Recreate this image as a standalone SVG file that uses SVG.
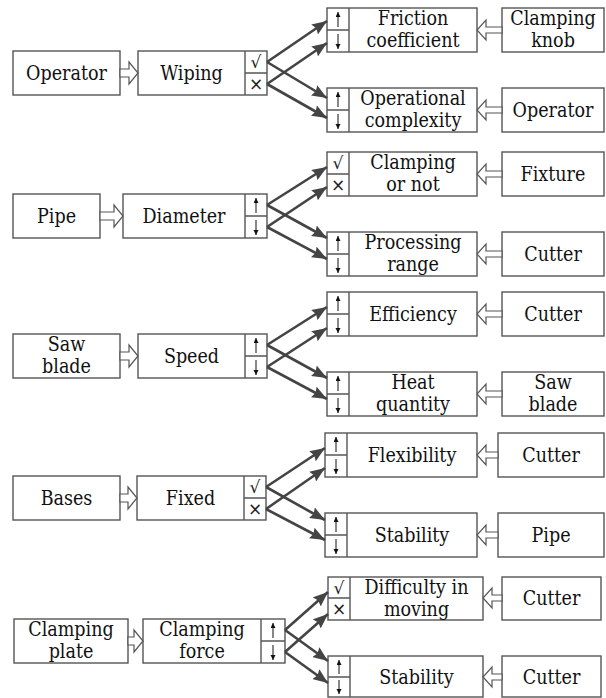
<svg xmlns="http://www.w3.org/2000/svg" width="606" height="698" viewBox="0 0 606 698">
  <style>
    .box { fill: #fff; stroke: #555; stroke-width: 1.4; }
    .div { stroke: #555; stroke-width: 1.4; fill: none; }
    .lbl { font-family: "DejaVu Serif Condensed", "DejaVu Serif", serif; font-stretch: condensed; font-size: 19.5px; fill: #111; text-anchor: middle; }
    .sym { font-family: "DejaVu Sans", sans-serif; font-size: 17px; fill: #222; text-anchor: middle; }
    .flow { fill: #fff; stroke: #555; stroke-width: 1.2; stroke-linejoin: miter; }
    .link { stroke: #444; stroke-width: 2.6; fill: none; marker-end: url(#head); }
    .tick { stroke: #111; stroke-width: 1; fill: none; marker-end: url(#tip); }
  </style>
  <defs>
    <marker id="head" markerUnits="userSpaceOnUse" markerWidth="16" markerHeight="12" refX="15" refY="6" orient="auto">
      <path d="M0,0 L15,6 L0,12 L2,6 z" fill="#444"/>
    </marker>
    <marker id="tip" markerUnits="userSpaceOnUse" markerWidth="6" markerHeight="6" refX="5" refY="2.5" orient="auto">
      <path d="M0,0 L5,2.5 L0,5 z" fill="#111"/>
    </marker>
  </defs>

  <!-- ===== Row 1 ===== -->
  <g id="operator-1"><rect class="box" x="13" y="51" width="107" height="44"/><text class="lbl" x="66.5" y="80">Operator</text></g>
  <g id="wiping">
    <rect class="box" x="138" y="51" width="129" height="44"/>
    <path class="div" d="M245,51 V95 M245,73 H267"/>
    <text class="lbl" x="191.5" y="80">Wiping</text>
    <text class="sym" x="256" y="68">√</text><text class="sym" x="256" y="90">×</text>
  </g>
  <g id="friction">
    <rect class="box" x="327" y="8" width="150" height="44"/>
    <path class="div" d="M349,8 V52 M327,30 H349"/>
    <text class="lbl" x="413" y="25">Friction</text><text class="lbl" x="413" y="47">coefficient</text>
    <path class="tick" d="M338,27 V12"/><path class="tick" d="M338,34 V49"/>
  </g>
  <g id="knob"><rect class="box" x="502" y="8" width="102" height="44"/><text class="lbl" x="553" y="25">Clamping</text><text class="lbl" x="553" y="47">knob</text></g>
  <g id="complexity">
    <rect class="box" x="327" y="88" width="150" height="44"/>
    <path class="div" d="M349,88 V132 M327,110 H349"/>
    <text class="lbl" x="413" y="105">Operational</text><text class="lbl" x="413" y="127">complexity</text>
    <path class="tick" d="M338,107 V92"/><path class="tick" d="M338,114 V129"/>
  </g>
  <g id="operator-2"><rect class="box" x="502" y="88" width="102" height="44"/><text class="lbl" x="553" y="117">Operator</text></g>

  <!-- ===== Row 2 ===== -->
  <g id="pipe-1"><rect class="box" x="13" y="194" width="87" height="44"/><text class="lbl" x="56.5" y="223">Pipe</text></g>
  <g id="diameter">
    <rect class="box" x="123" y="194" width="144" height="44"/>
    <path class="div" d="M245,194 V238 M245,216 H267"/>
    <text class="lbl" x="184" y="223">Diameter</text>
    <path class="tick" d="M256,213 V198"/><path class="tick" d="M256,220 V235"/>
  </g>
  <g id="clamping-or-not">
    <rect class="box" x="327" y="152" width="150" height="44"/>
    <path class="div" d="M349,152 V196 M327,174 H349"/>
    <text class="lbl" x="413" y="169">Clamping</text><text class="lbl" x="413" y="191">or not</text>
    <text class="sym" x="338" y="169">√</text><text class="sym" x="338" y="191">×</text>
  </g>
  <g id="fixture"><rect class="box" x="502" y="152" width="102" height="44"/><text class="lbl" x="553" y="181">Fixture</text></g>
  <g id="processing-range">
    <rect class="box" x="327" y="232" width="150" height="44"/>
    <path class="div" d="M349,232 V276 M327,254 H349"/>
    <text class="lbl" x="413" y="249">Processing</text><text class="lbl" x="413" y="271">range</text>
    <path class="tick" d="M338,251 V236"/><path class="tick" d="M338,258 V273"/>
  </g>
  <g id="cutter-1"><rect class="box" x="502" y="232" width="102" height="44"/><text class="lbl" x="553" y="261">Cutter</text></g>

  <!-- ===== Row 3 ===== -->
  <g id="saw-blade-1"><rect class="box" x="13" y="334" width="107" height="44"/><text class="lbl" x="66.5" y="351">Saw</text><text class="lbl" x="66.5" y="373">blade</text></g>
  <g id="speed">
    <rect class="box" x="138" y="334" width="129" height="44"/>
    <path class="div" d="M245,334 V378 M245,356 H267"/>
    <text class="lbl" x="191.5" y="363">Speed</text>
    <path class="tick" d="M256,353 V338"/><path class="tick" d="M256,360 V375"/>
  </g>
  <g id="efficiency">
    <rect class="box" x="327" y="292" width="150" height="44"/>
    <path class="div" d="M349,292 V336 M327,314 H349"/>
    <text class="lbl" x="413" y="321">Efficiency</text>
    <path class="tick" d="M338,311 V296"/><path class="tick" d="M338,318 V333"/>
  </g>
  <g id="cutter-2"><rect class="box" x="502" y="292" width="102" height="44"/><text class="lbl" x="553" y="321">Cutter</text></g>
  <g id="heat-quantity">
    <rect class="box" x="327" y="372" width="150" height="44"/>
    <path class="div" d="M349,372 V416 M327,394 H349"/>
    <text class="lbl" x="413" y="389">Heat</text><text class="lbl" x="413" y="411">quantity</text>
    <path class="tick" d="M338,391 V376"/><path class="tick" d="M338,398 V413"/>
  </g>
  <g id="saw-blade-2"><rect class="box" x="502" y="372" width="102" height="44"/><text class="lbl" x="553" y="389">Saw</text><text class="lbl" x="553" y="411">blade</text></g>

  <!-- ===== Row 4 ===== -->
  <g id="bases"><rect class="box" x="13" y="476" width="107" height="44"/><text class="lbl" x="66.5" y="505">Bases</text></g>
  <g id="fixed">
    <rect class="box" x="137" y="476" width="129" height="44"/>
    <path class="div" d="M244,476 V520 M244,498 H266"/>
    <text class="lbl" x="190.5" y="505">Fixed</text>
    <text class="sym" x="255" y="493">√</text><text class="sym" x="255" y="515">×</text>
  </g>
  <g id="flexibility">
    <rect class="box" x="325" y="433" width="152" height="44"/>
    <path class="div" d="M347,433 V477 M325,455 H347"/>
    <text class="lbl" x="412" y="462">Flexibility</text>
    <path class="tick" d="M336,452 V437"/><path class="tick" d="M336,459 V474"/>
  </g>
  <g id="cutter-3"><rect class="box" x="498" y="433" width="106" height="44"/><text class="lbl" x="551" y="462">Cutter</text></g>
  <g id="stability-1">
    <rect class="box" x="325" y="513" width="152" height="44"/>
    <path class="div" d="M347,513 V557 M325,535 H347"/>
    <text class="lbl" x="412" y="542">Stability</text>
    <path class="tick" d="M336,532 V517"/><path class="tick" d="M336,539 V554"/>
  </g>
  <g id="pipe-2"><rect class="box" x="498" y="513" width="106" height="44"/><text class="lbl" x="551" y="542">Pipe</text></g>

  <!-- ===== Row 5 ===== -->
  <g id="clamping-plate"><rect class="box" x="14" y="619" width="114" height="44"/><text class="lbl" x="71" y="636">Clamping</text><text class="lbl" x="71" y="658">plate</text></g>
  <g id="clamping-force">
    <rect class="box" x="143" y="619" width="142" height="44"/>
    <path class="div" d="M261,619 V663 M261,641 H285"/>
    <text class="lbl" x="202" y="636">Clamping</text><text class="lbl" x="202" y="658">force</text>
    <path class="tick" d="M273,638 V623"/><path class="tick" d="M273,645 V660"/>
  </g>
  <g id="difficulty">
    <rect class="box" x="328" y="577" width="155" height="43"/>
    <path class="div" d="M350,577 V620 M328,598 H350"/>
    <text class="lbl" x="416.5" y="594">Difficulty in</text><text class="lbl" x="416.5" y="616">moving</text>
    <text class="sym" x="339" y="594">√</text><text class="sym" x="339" y="615">×</text>
  </g>
  <g id="cutter-4"><rect class="box" x="502" y="577" width="99" height="43"/><text class="lbl" x="551.5" y="605">Cutter</text></g>
  <g id="stability-2">
    <rect class="box" x="328" y="656" width="155" height="41"/>
    <path class="div" d="M350,656 V697 M328,677 H350"/>
    <text class="lbl" x="416.5" y="684">Stability</text>
    <path class="tick" d="M339,674 V660"/><path class="tick" d="M339,680 V694"/>
  </g>
  <g id="cutter-5"><rect class="box" x="502" y="656" width="99" height="41"/><text class="lbl" x="551.5" y="684">Cutter</text></g>

  <!-- ===== Connectors ===== -->
  <g id="connectors">
    <!-- hollow influence arrows -->
    <polygon class="flow" points="120,69 129,69 129,62 138,73 129,84 129,77 120,77"/>
    <polygon class="flow" points="502,27 486,27 486,20 477,30 486,40 486,33 502,33"/>
    <polygon class="flow" points="502,107 486,107 486,100 477,110 486,120 486,113 502,113"/>

    <polygon class="flow" points="100,212 114,212 114,205 123,216 114,227 114,220 100,220"/>
    <polygon class="flow" points="502,171 486,171 486,164 477,174 486,184 486,177 502,177"/>
    <polygon class="flow" points="502,251 486,251 486,244 477,254 486,264 486,257 502,257"/>

    <polygon class="flow" points="120,352 129,352 129,345 138,356 129,367 129,360 120,360"/>
    <polygon class="flow" points="502,311 486,311 486,304 477,314 486,324 486,317 502,317"/>
    <polygon class="flow" points="502,391 486,391 486,384 477,394 486,404 486,397 502,397"/>

    <polygon class="flow" points="120,494 128,494 128,487 137,498 128,509 128,502 120,502"/>
    <polygon class="flow" points="498,452 486,452 486,445 477,455 486,465 486,458 498,458"/>
    <polygon class="flow" points="498,532 486,532 486,525 477,535 486,545 486,538 498,538"/>

    <polygon class="flow" points="128,637 134,637 134,630 143,641 134,652 134,645 128,645"/>
    <polygon class="flow" points="502,595 492,595 492,588 483,598 492,608 492,601 502,601"/>
    <polygon class="flow" points="502,674 492,674 492,667 483,677 492,687 492,680 502,680"/>

    <!-- state links -->
    <line class="link" x1="267" y1="62" x2="327" y2="21"/>
    <line class="link" x1="267" y1="62" x2="327" y2="98"/>
    <line class="link" x1="267" y1="84" x2="327" y2="43"/>
    <line class="link" x1="267" y1="84" x2="327" y2="118"/>

    <line class="link" x1="267" y1="205" x2="327" y2="167"/>
    <line class="link" x1="267" y1="205" x2="327" y2="238"/>
    <line class="link" x1="267" y1="227" x2="327" y2="187"/>
    <line class="link" x1="267" y1="227" x2="327" y2="259"/>

    <line class="link" x1="267" y1="345" x2="327" y2="307"/>
    <line class="link" x1="267" y1="345" x2="327" y2="378"/>
    <line class="link" x1="267" y1="367" x2="327" y2="328"/>
    <line class="link" x1="267" y1="367" x2="327" y2="399"/>

    <line class="link" x1="266" y1="487" x2="325" y2="448"/>
    <line class="link" x1="266" y1="487" x2="325" y2="520"/>
    <line class="link" x1="266" y1="509" x2="325" y2="468"/>
    <line class="link" x1="266" y1="509" x2="325" y2="540"/>

    <line class="link" x1="285" y1="630" x2="328" y2="592"/>
    <line class="link" x1="285" y1="630" x2="328" y2="661"/>
    <line class="link" x1="285" y1="652" x2="328" y2="614"/>
    <line class="link" x1="285" y1="652" x2="328" y2="683"/>
  </g>
</svg>
